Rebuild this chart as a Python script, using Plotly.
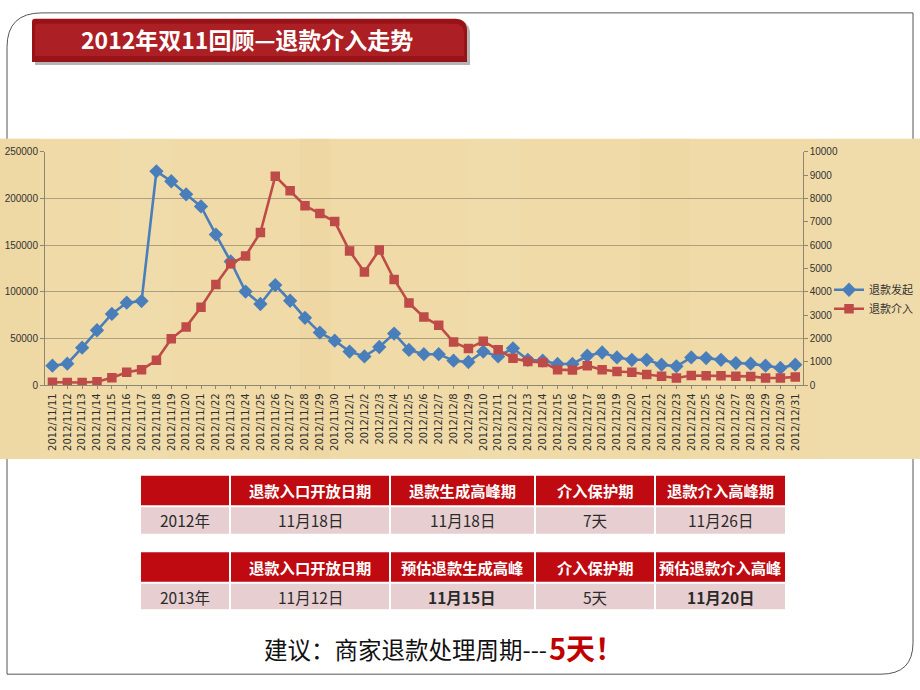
import plotly.graph_objects as go

# ---------------- data ----------------
dates = [
    "2012/11/11", "2012/11/12", "2012/11/13", "2012/11/14", "2012/11/15", "2012/11/16",
    "2012/11/17", "2012/11/18", "2012/11/19", "2012/11/20", "2012/11/21", "2012/11/22",
    "2012/11/23", "2012/11/24", "2012/11/25", "2012/11/26", "2012/11/27", "2012/11/28",
    "2012/11/29", "2012/11/30", "2012/12/1", "2012/12/2", "2012/12/3", "2012/12/4",
    "2012/12/5", "2012/12/6", "2012/12/7", "2012/12/8", "2012/12/9", "2012/12/10",
    "2012/12/11", "2012/12/12", "2012/12/13", "2012/12/14", "2012/12/15", "2012/12/16",
    "2012/12/17", "2012/12/18", "2012/12/19", "2012/12/20", "2012/12/21", "2012/12/22",
    "2012/12/23", "2012/12/24", "2012/12/25", "2012/12/26", "2012/12/27", "2012/12/28",
    "2012/12/29", "2012/12/30", "2012/12/31",
]

refund_started = [  # 退款发起 (left axis)
    21000, 23100, 40300, 58900, 76400, 88400, 90100, 229000, 218400, 204400,
    191400, 161300, 132500, 100300, 87000, 107300, 90500, 72200, 56400, 47700,
    36100, 30900, 41000, 55400, 37900, 33300, 33300, 26300, 24900, 36100,
    30900, 39600, 27300, 26300, 22800, 22800, 31600, 35100, 29800, 27300,
    27300, 22100, 20300, 29800, 29100, 27300, 23800, 23100, 21000, 18600,
    22100,
]

refund_intervened = [  # 退款介入 (right axis)
    130, 120, 120, 150, 320, 560, 670, 1070, 1990, 2500,
    3340, 4320, 5200, 5540, 6540, 8950, 8330, 7690, 7350, 7010,
    5750, 4850, 5790, 4530, 3520, 2920, 2570, 1850, 1570, 1890,
    1520, 1160, 1020, 980, 670, 650, 840, 670, 590, 560,
    460, 390, 310, 420, 410, 410, 390, 380, 310, 310,
    360,
]

series_names = ["退款发起", "退款介入"]
left_ticks = [0, 50000, 100000, 150000, 200000, 250000]
right_ticks = [0, 1000, 2000, 3000, 4000, 5000, 6000, 7000, 8000, 9000, 10000]

title_text = "2012年双11回顾—退款介入走势"

table1_header = ["", "退款入口开放日期", "退款生成高峰期", "介入保护期", "退款介入高峰期"]
table1_row = ["2012年", "11月18日", "11月18日", "7天", "11月26日"]
table1_bold = [False, False, False, False, False]

table2_header = ["", "退款入口开放日期", "预估退款生成高峰", "介入保护期", "预估退款介入高峰"]
table2_row = ["2013年", "11月12日", "11月15日", "5天", "11月20日"]
table2_bold = [False, False, True, False, True]

advice_text = "建议：商家退款处理周期---"
advice_emph = "5天！"

# ---------------- layout helpers ----------------
W, H = 920, 690
CJK = "Noto Sans CJK SC"


def px(x):
    return x / W


def py(y):
    return 1 - y / H


BLUE = "#4A7EBB"
RED = "#BE4B48"

fig = go.Figure()

fig.add_trace(go.Scatter(
    x=dates, y=refund_started, name=series_names[0], mode="lines+markers",
    line=dict(color=BLUE, width=2.6),
    marker=dict(symbol="diamond", size=11, color=BLUE),
    xaxis="x", yaxis="y",
))
fig.add_trace(go.Scatter(
    x=dates, y=refund_intervened, name=series_names[1], mode="lines+markers",
    line=dict(color=RED, width=2.6),
    marker=dict(symbol="square", size=9.5, color=RED),
    xaxis="x", yaxis="y2",
))

shapes = []
annotations = []

# slide border (rounded diagonal corners)
border_path = (
    f"M {px(7)},{py(42)} Q {px(7)},{py(7)} {px(42)},{py(7)} "
    f"L {px(913)},{py(7)} L {px(913)},{py(648)} "
    f"Q {px(913)},{py(680)} {px(881)},{py(680)} L {px(7)},{py(680)} Z"
)
shapes.append(dict(type="path", xref="paper", yref="paper", path=border_path,
                   line=dict(color="#555555", width=1), fillcolor="rgba(0,0,0,0)",
                   layer="below"))

# parchment background
shapes.append(dict(type="rect", xref="paper", yref="paper",
                   x0=px(0), x1=px(920), y0=py(461), y1=py(135),
                   fillcolor="#F0DBA8", line=dict(width=0), layer="below"))
# subtle texture bands
for (xa, xb, col) in [(0, 40, "#EBD39C"), (120, 170, "#F2DFAF"), (300, 330, "#EAD29B"),
                      (470, 520, "#F2E0B0"), (640, 690, "#EBD49E"), (820, 920, "#F1DEAE")]:
    shapes.append(dict(type="rect", xref="paper", yref="paper",
                       x0=px(xa), x1=px(xb), y0=py(461), y1=py(135),
                       fillcolor=col, opacity=0.35, line=dict(width=0), layer="below"))


# title banner
def banner_path(x0, y0, x1, y1, r):
    return (f"M {px(x0)},{py(y1)} L {px(x0)},{py(y0 + 3)} Q {px(x0)},{py(y0)} {px(x0 + 3)},{py(y0)} "
            f"L {px(x1 - r)},{py(y0)} Q {px(x1)},{py(y0)} {px(x1)},{py(y0 + r)} "
            f"L {px(x1)},{py(y1)} Z")


shapes.append(dict(type="path", xref="paper", yref="paper", path=banner_path(35, 16, 470, 60, 12),
                   fillcolor="rgba(90,90,90,0.45)", line=dict(width=0)))
shapes.append(dict(type="path", xref="paper", yref="paper", path=banner_path(32, 13, 467, 57, 12),
                   fillcolor="#981317", line=dict(width=0)))
shapes.append(dict(type="path", xref="paper", yref="paper", path=banner_path(35, 18, 464, 51, 10),
                   fillcolor="#AC1F24", line=dict(width=0)))
annotations.append(dict(xref="paper", yref="paper", x=px(247), y=py(34), text=f"<b>{title_text}</b>",
                        showarrow=False, xanchor="center", yanchor="middle",
                        font=dict(family=CJK, size=23, color="white")))

# tables
col_edges = [140, 230, 390, 535, 655, 786]
HEAD_RED = "#BE0A10"
ROW_PINK = "#E7CFD1"


def add_table(header, row, bold, y_head, y_row):
    (hy0, hy1), (ry0, ry1) = y_head, y_row
    for i in range(len(header)):
        x0, x1 = col_edges[i] + 1, col_edges[i + 1] - 1
        shapes.append(dict(type="rect", xref="paper", yref="paper",
                           x0=px(x0), x1=px(x1), y0=py(hy1), y1=py(hy0),
                           fillcolor=HEAD_RED, line=dict(width=0)))
        shapes.append(dict(type="rect", xref="paper", yref="paper",
                           x0=px(x0), x1=px(x1), y0=py(ry1), y1=py(ry0),
                           fillcolor=ROW_PINK, line=dict(width=0)))
        xc = (col_edges[i] + col_edges[i + 1]) / 2
        if header[i]:
            annotations.append(dict(xref="paper", yref="paper", x=px(xc), y=py((hy0 + hy1) / 2),
                                    text=f"<b>{header[i]}</b>", showarrow=False,
                                    xanchor="center", yanchor="middle",
                                    font=dict(family=CJK, size=15.3, color="white")))
        t = f"<b>{row[i]}</b>" if bold[i] else row[i]
        annotations.append(dict(xref="paper", yref="paper", x=px(xc), y=py((ry0 + ry1) / 2),
                                text=t, showarrow=False, xanchor="center", yanchor="middle",
                                font=dict(family=CJK, size=15.5, color="#2A2A2A")))


add_table(table1_header, table1_row, table1_bold, (478, 508), (510, 537))
add_table(table2_header, table2_row, table2_bold, (556, 586), (588, 614))

# advice line
annotations.append(dict(xref="paper", yref="paper", x=px(549), y=py(654),
                        text=advice_text, showarrow=False, xanchor="right", yanchor="middle",
                        font=dict(family=CJK, size=23.5, color="#111111")))
annotations.append(dict(xref="paper", yref="paper", x=px(547), y=py(652),
                        text=f"<b>{advice_emph}</b>", showarrow=False, xanchor="left", yanchor="middle",
                        font=dict(family=CJK, size=29, color="#C00000")))

AXIS_GRAY = "#8E8670"
GRID = "#ADA07E"

fig.update_layout(
    width=W, height=H,
    margin=dict(l=0, r=0, t=0, b=0),
    paper_bgcolor="white",
    plot_bgcolor="rgba(0,0,0,0)",
    shapes=shapes,
    annotations=annotations,
    showlegend=True,
    legend=dict(x=px(829), y=py(274), xanchor="left", yanchor="top",
                bgcolor="rgba(0,0,0,0)", font=dict(family=CJK, size=11, color="#333333"),
                tracegroupgap=0),
    xaxis=dict(
        domain=[px(45), px(802.7)],
        anchor="y",
        type="category",
        categoryorder="array", categoryarray=dates,
        range=[-0.5, len(dates) - 0.5],
        tickangle=-90,
        tickfont=dict(family="DejaVu Sans", size=10, color="#2E2E2E"),
        showgrid=False,
        showline=True, linecolor=AXIS_GRAY, linewidth=1,
        ticks="outside", ticklen=3, tickcolor=AXIS_GRAY,
        zeroline=False,
        fixedrange=True,
    ),
    yaxis=dict(
        domain=[py(386), py(148.3)],
        anchor="x",
        range=[0, 250000],
        tickvals=left_ticks,
        ticktext=[str(v) for v in left_ticks],
        tickfont=dict(family="Liberation Sans", size=10, color="#333333"),
        showgrid=True, gridcolor=GRID, gridwidth=1,
        showline=True, linecolor=AXIS_GRAY, linewidth=1,
        ticks="outside", ticklen=4, tickcolor=AXIS_GRAY,
        zeroline=False,
    ),
    yaxis2=dict(
        overlaying="y", side="right", anchor="x",
        range=[0, 10000],
        tickvals=right_ticks,
        ticktext=[str(v) for v in right_ticks],
        tickfont=dict(family="Liberation Sans", size=10, color="#333333"),
        showgrid=False,
        showline=True, linecolor=AXIS_GRAY, linewidth=1,
        ticks="outside", ticklen=4, tickcolor=AXIS_GRAY,
        zeroline=False,
    ),
)

fig.write_html("out.html",
               config={"displayModeBar": False},
               post_script="document.body.style.margin='0';document.documentElement.style.margin='0';")
